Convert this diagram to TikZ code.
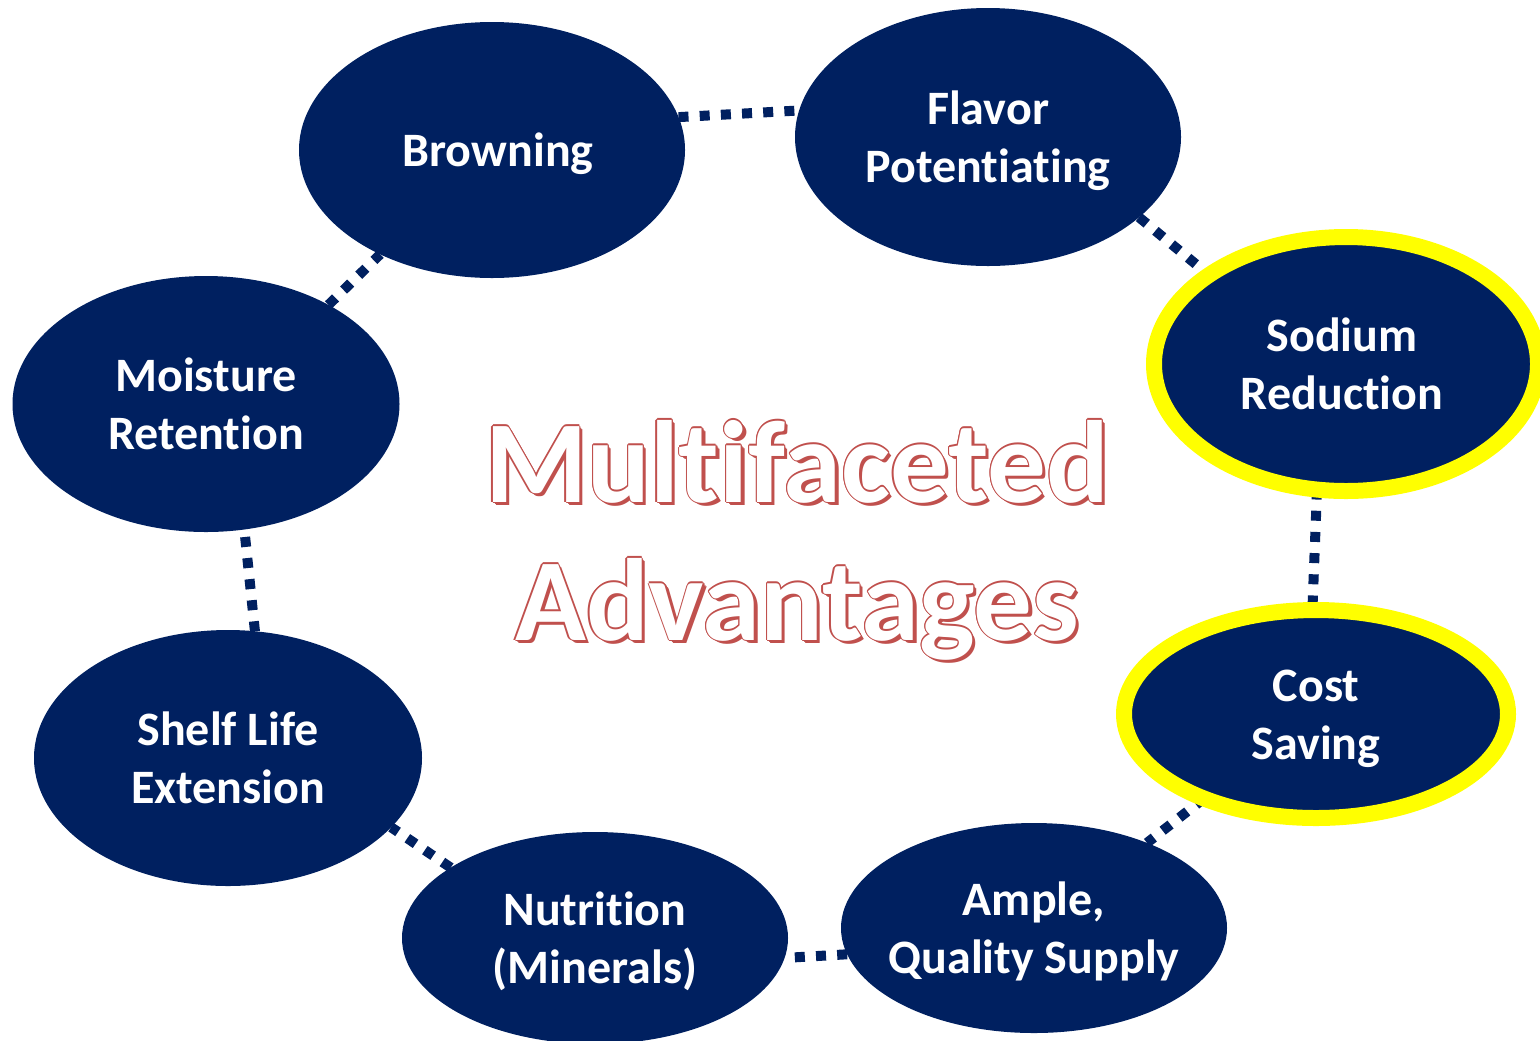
\documentclass[tikz,border=0pt]{standalone}
\usepackage{fontspec}
\setmainfont{Carlito}[Ligatures={NoCommon,NoContextual}]
\usetikzlibrary{shapes.geometric}
\definecolor{navy}{HTML}{002060}
\definecolor{ringyellow}{HTML}{FFFF00}
\definecolor{titlered}{HTML}{C0504D}
\pgfdeclarelayer{bg}
\pgfsetlayers{bg,main}

% invisible rule giving every bubble line the same height and depth
\newcommand\lnstrut{\rule[-6pt]{0pt}{28.5pt}}
% one shifted red copy of a word, taking no width
\newcommand\redcopy[3]{\rlap{\kern#1\raisebox{#2}{\textcolor{titlered}{#3}}}}
% white letters with a thin red rim and a red drop shadow
\newcommand\outlined[1]{%
  \redcopy{1.8pt}{-1.8pt}{#1}%
  \redcopy{1.3pt}{-1.3pt}{#1}%
  \redcopy{0.8pt}{-0.8pt}{#1}%
  \redcopy{0.6pt}{0pt}{#1}\redcopy{-0.6pt}{0pt}{#1}%
  \redcopy{0pt}{0.6pt}{#1}\redcopy{0pt}{-0.6pt}{#1}%
  \redcopy{0.42pt}{0.42pt}{#1}\redcopy{-0.42pt}{0.42pt}{#1}%
  \redcopy{0.42pt}{-0.42pt}{#1}\redcopy{-0.42pt}{-0.42pt}{#1}%
  \textcolor{white}{#1}}

\begin{document}
\begin{tikzpicture}[x=0.5pt,y=-0.5pt,
  bubble/.style={ellipse, fill=navy, inner sep=0pt, outer sep=0pt},
  ringed/.style={bubble, draw=ringyellow, line width=8pt},
  bubbletext/.style={text=white, align=center, inner sep=0pt,
    font=\bfseries\fontsize{24}{29}\selectfont},
  link/.style={draw=navy, line width=5pt, dash pattern=on 5pt off 5.6pt},
  headline/.style={anchor=base, inner sep=0pt,
    font=\bfseries\fontsize{58.5}{70}\selectfont}]
\useasboundingbox (0,0) rectangle (1540,1040);
\clip (0,0) rectangle (1540,1040);

% the eight bubbles
\node[bubble, minimum width=193pt, minimum height=128pt] (brown)  at (492,150) {};
\node[bubble, minimum width=193pt, minimum height=129pt] (flavor) at (988,137) {};
\node[ringed, minimum width=192pt, minimum height=127pt] (sodium) at (1346,364) {};
\node[ringed, minimum width=192pt, minimum height=104pt] (cost)   at (1316,714) {};
\node[bubble, minimum width=193pt, minimum height=105pt] (ample)  at (1034,928) {};
\node[bubble, minimum width=193pt, minimum height=106pt] (nutri)  at (595,938) {};
\node[bubble, minimum width=194pt, minimum height=128pt] (shelf)  at (228,758) {};
\node[bubble, minimum width=193.5pt, minimum height=128pt] (moist) at (206,404) {};

% bubble captions
\node[bubbletext] (tBrown)  at (498,150)  {\lnstrut Browning};
\node[bubbletext] (tFlavor) at (flavor)   {\lnstrut Flavor\\Potentiating\lnstrut};
\node[bubbletext] (tSodium) at (1342,364) {\lnstrut Sodium\\Reduction\lnstrut};
\node[bubbletext] (tCost)   at (cost)     {\lnstrut Cost\\Saving\lnstrut};
\node[bubbletext] (tAmple)  at (ample)    {\lnstrut Ample,\\Quality Supply\lnstrut};
\node[bubbletext] (tNutri)  at (nutri)    {\lnstrut Nutrition\\(Minerals)\lnstrut};
\node[bubbletext] (tShelf)  at (shelf)    {\lnstrut Shelf Life\\Extension\lnstrut};
\node[bubbletext] (tMoist)  at (moist)    {\lnstrut Moisture\\Retention\lnstrut};

% dotted ring of links, tucked behind the bubbles
\begin{pgfonlayer}{bg}
\draw[link] (brown.10)   -- (flavor.172);
\draw[link] (flavor.-28) -- (sodium.147);
\draw[link] (sodium.-103) -- (cost.92);
\draw[link] (cost.217)   -- (ample.37);
\draw[link] (ample.188)  -- (nutri.-6);
\draw[link] (nutri.154)  -- (shelf.-23);
\draw[link] (shelf.78)   -- (moist.-73);
\draw[link] (moist.39)   -- (brown.223);
\end{pgfonlayer}

% centre heading
\node[headline] (headA) at (797,502) {\outlined{Multifaceted}};
\node[headline] (headB) at (797,640) {\outlined{Advantages}};
\end{tikzpicture}
\end{document}
